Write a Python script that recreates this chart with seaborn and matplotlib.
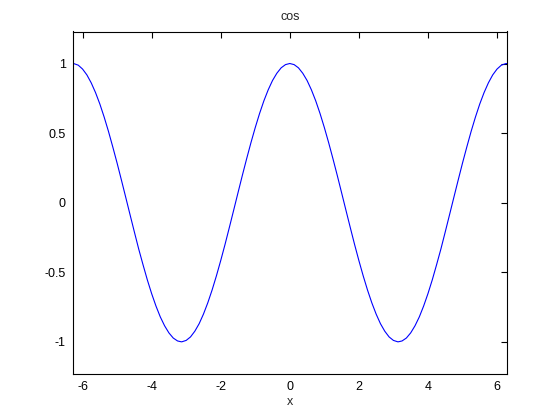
import matplotlib
matplotlib.use("Agg")
import matplotlib.pyplot as plt
import pandas as pd
import seaborn as sns

# curve samples (right half, mirrored for the left)
x_right = [0.0, 0.125, 0.25, 0.375, 0.5, 0.625, 0.75, 0.875, 1.0, 1.125,
           1.25, 1.375, 1.5, 1.625, 1.75, 1.875, 2.0, 2.125, 2.25, 2.375,
           2.5, 2.625, 2.75, 2.875, 3.0, 3.125, 3.1416, 3.25, 3.375, 3.5,
           3.625, 3.75, 3.875, 4.0, 4.125, 4.25, 4.375, 4.5, 4.625, 4.75,
           4.875, 5.0, 5.125, 5.25, 5.375, 5.5, 5.625, 5.75, 5.875, 6.0,
           6.125, 6.25, 6.283]
y_right = [1.0, 0.992, 0.969, 0.930, 0.878, 0.811, 0.732, 0.641, 0.540, 0.431,
           0.315, 0.195, 0.071, -0.054, -0.178, -0.300, -0.416, -0.526, -0.628, -0.720,
           -0.801, -0.870, -0.924, -0.965, -0.990, -1.0, -1.0, -0.994, -0.973, -0.936,
           -0.885, -0.821, -0.743, -0.654, -0.555, -0.446, -0.333, -0.211, -0.087, 0.038,
           0.162, 0.284, 0.400, 0.512, 0.615, 0.709, 0.791, 0.861, 0.918, 0.960,
           0.988, 0.999, 1.0]

x_vals = [-v for v in x_right[:0:-1]] + x_right
y_vals = y_right[:0:-1] + y_right

x_ticks = [-6, -4, -2, 0, 2, 4, 6]
y_ticks = [-1, -0.5, 0, 0.5, 1]
y_tick_labels = ["-1", "-0.5", "0", "0.5", "1"]

df = pd.DataFrame({"x": x_vals, "y": y_vals})

sns.set_style("white")
plt.rcParams["font.family"] = ["Liberation Sans", "DejaVu Sans"]

fig = plt.figure(figsize=(5.6, 4.2), dpi=100)
ax = fig.add_axes([0.13, 0.11, 0.775, 0.815])
sns.lineplot(data=df, x="x", y="y", ax=ax, color="#0000ff", linewidth=0.8, sort=False)

ax.set_xlim(-6.283, 6.283)
ax.set_ylim(-1.23, 1.23)
ax.set_xticks(x_ticks)
ax.set_xticklabels([str(t) for t in x_ticks])
ax.set_yticks(y_ticks)
ax.set_yticklabels(y_tick_labels)
ax.tick_params(direction="in", length=4, width=0.8, labelsize=9, colors="black",
               top=True, right=True, pad=5)
for s in ax.spines.values():
    s.set_color("black")
    s.set_linewidth(0.8)
ax.set_xlabel("x", fontsize=9, labelpad=2)
ax.set_ylabel("")
ax.set_title("cos", fontsize=9, pad=8)

fig.savefig("out.png", dpi=100, facecolor="white")
